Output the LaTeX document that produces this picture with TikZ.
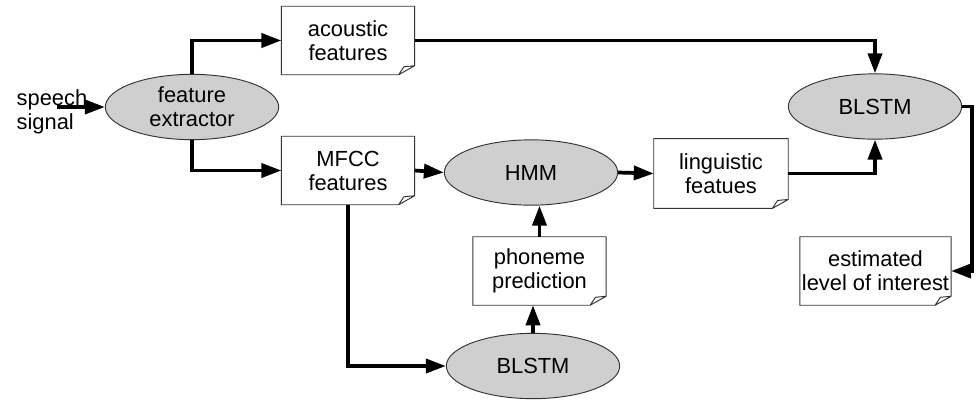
\documentclass[tikz,border=0pt]{standalone}
\usepackage{fontspec}
\setmainfont{Liberation Sans}
\usetikzlibrary{shapes,
	arrows.meta,
	calc,
	positioning}
\tikzstyle{proc}=[ellipse, draw=black!80, line width=0.7pt, fill=black!19,
		minimum width=130pt, minimum height=49pt, inner sep=0, align=center]
\tikzstyle{doc}=[minimum width=99.5pt, minimum height=51pt, inner sep=0, align=center]
\tikzstyle{docline}=[draw=black!80, line width=0.7pt]
\tikzstyle{flow}=[line width=2.8pt, -{Triangle[length=15pt,width=10.5pt]}]

\begin{document}
\begin{tikzpicture}[x=0.75pt, y=-0.75pt, font=\fontsize{16.4pt}{18pt}\selectfont]
            \useasboundingbox (0,0) rectangle (980,400);
            % input and processing blocks
            \node[align=left, anchor=west] (sig) at (12,112) {speech\\signal};
            \coordinate (sigend) at (57,107);
            \node[proc] (fe) at (192,107) {feature\\extractor};
            \node[proc] (hmm) at (531,172.5) {HMM};
            \node[proc] (bt) at (875,106.5) {BLSTM};
            \node[proc] (bb) at (533,366) {BLSTM};
            % documents
            \node[doc] (ac) at (348,40.5) {acoustic\\features};
            \node[doc] (mf) at (348,170.5) {MFCC\\features};
            \node[doc, minimum width=100.5pt, minimum height=52pt] (lf) at (721,173.5) {linguistic\\featues};
            \node[doc] (ph) at (539.5,271) {phoneme\\prediction};
            \node[doc, minimum width=113pt] (el) at (875.5,271) {estimated\\level of interest};
            \foreach \n in {ac,mf,lf,ph,el}
                \draw[docline] (\n.north west) -- (\n.north east) -- ([yshift=6.75pt]\n.south east)
                    -- ([xshift=-12pt]\n.south east) -- (\n.south west) -- cycle
                    ([xshift=-12pt]\n.south east) -- ([xshift=-8pt,yshift=6pt]\n.south east)
                    -- ([yshift=6.75pt]\n.south east);
            % connections
            \draw[flow] (sigend) -- (fe.west);
            \draw[flow] (fe.north) |- (ac.west);
            \draw[flow] (fe.south) |- (mf.west);
            \draw[flow] (mf.east) -- (hmm.west);
            \draw[flow] (hmm.east) -- (lf.west);
            \draw[flow] (ac.east) -| (bt.north);
            \draw[flow] (lf.east) -| (bt.south);
            \draw[flow] (bt.east) -- ++(10,0) |- (el.east);
            \draw[flow] (mf.south) |- (bb.west);
            \draw[flow] (bb.north) -- (bb.north |- ph.south);
            \draw[flow] (ph.north) -- (ph.north |- hmm.south);
        \end{tikzpicture}
\end{document}
